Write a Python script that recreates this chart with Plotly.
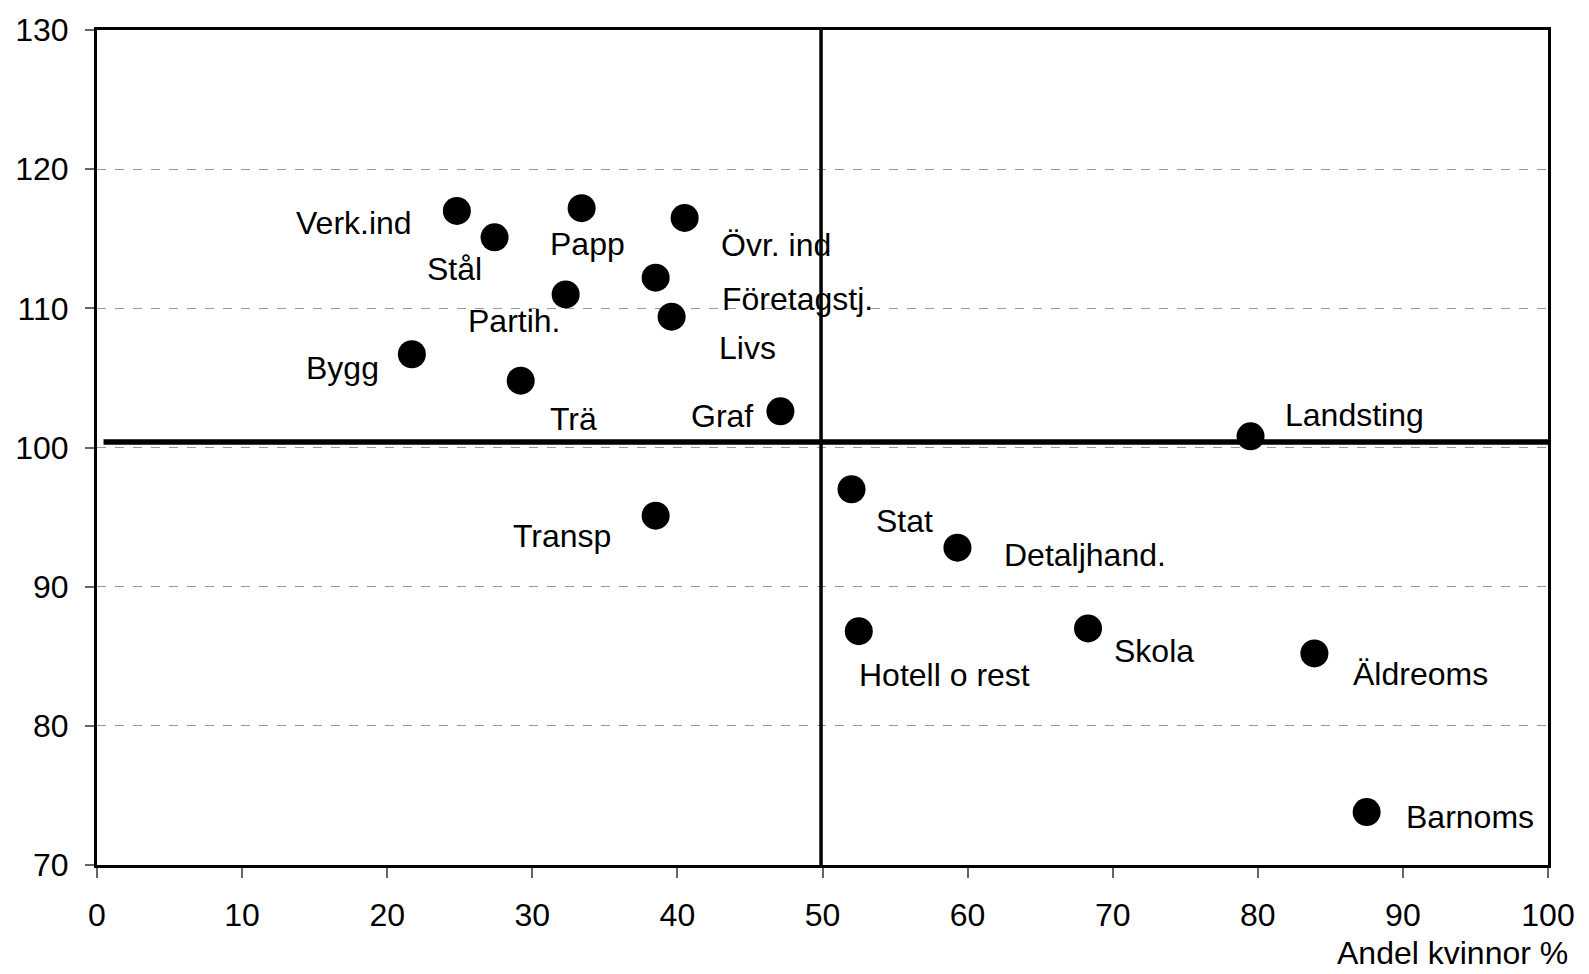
import plotly.graph_objects as go

# ---- data ----
sectors = ["Bank", "Verk.ind", "Stål", "Papp", "Övr. ind", "Partih.", "Företagstj.",
           "Livs", "Bygg", "Trä", "Graf", "Landsting", "Stat", "Transp",
           "Detaljhand.", "Hotell o rest", "Skola", "Äldreoms", "Barnoms"]
andel_kvinnor = [53.3, 24.8, 27.4, 33.4, 40.5, 32.3, 38.5,
                 39.6, 21.7, 29.2, 47.1, 79.5, 52.0, 38.5,
                 59.3, 52.5, 68.3, 83.9, 87.5]
index_values = [130.3, 117.0, 115.1, 117.2, 116.5, 111.0, 112.2,
                109.4, 106.7, 104.8, 102.6, 100.8, 97.0, 95.1,
                92.8, 86.8, 87.0, 85.2, 73.8]

# reference (average) lines
vline_x = [49.9, 49.9]
vline_y = [70, 130]
hline_x = [0.45, 100]
hline_y = [100.4, 100.4]

x_ticks = [0, 10, 20, 30, 40, 50, 60, 70, 80, 90, 100]
y_ticks = [70, 80, 90, 100, 110, 120, 130]
x_title = "Andel kvinnor %"

# label offsets in pixels (dx right, dy down) -- layout only
label_offsets = [(95, 24), (-103, 12), (-40, 32), (6, 36), (91, 27), (-52, 27), (142, 21),
                 (76, 31), (-69, 14), (53, 38), (-58, 5), (104, -21), (53, 32), (-94, 20),
                 (128, 7), (86, 44), (66, 23), (106, 21), (103, 5)]

FONT = "Liberation Sans, Arial, sans-serif"
FS = 32

fig = go.Figure()

fig.add_trace(go.Scatter(x=hline_x, y=hline_y, mode="lines",
                         line=dict(color="black", width=5.5), hoverinfo="skip",
                         showlegend=False))
fig.add_trace(go.Scatter(x=vline_x, y=vline_y, mode="lines",
                         line=dict(color="black", width=3.5), hoverinfo="skip",
                         showlegend=False))
fig.add_trace(go.Scatter(x=andel_kvinnor, y=index_values, mode="markers",
                         marker=dict(color="black", size=28, line=dict(width=0)),
                         text=sectors, cliponaxis=False, showlegend=False))

for name, xv, yv, (dx, dy) in zip(sectors, andel_kvinnor, index_values, label_offsets):
    fig.add_annotation(x=xv, y=yv, xref="x", yref="y", text=name, showarrow=False,
                       xanchor="center", yanchor="middle", xshift=dx, yshift=-dy,
                       font=dict(family=FONT, size=FS, color="black"))

fig.add_annotation(x=1.0152, y=-0.0819, xref="paper", yref="paper", text=x_title,
                   showarrow=False, xanchor="right", yanchor="top",
                   font=dict(family=FONT, size=FS, color="black"))

fig.update_layout(
    width=1589, height=974,
    margin=dict(l=97, r=41, t=22, b=109),
    paper_bgcolor="white", plot_bgcolor="white",
    font=dict(family=FONT, size=FS, color="black"),
    showlegend=False,
)
fig.update_xaxes(range=[0, 100], tickvals=x_ticks, ticks="outside", ticklen=10,
                 tickwidth=2, tickcolor="#666", showgrid=False, zeroline=False,
                 showline=True, linecolor="black", linewidth=3, mirror=True,
                 ticklabelstandoff=10, tickfont=dict(family=FONT, size=FS, color="black"))
fig.update_yaxes(range=[70, 130], tickvals=y_ticks, ticks="outside", ticklen=9,
                 tickwidth=2, tickcolor="#666", showgrid=True, gridcolor="#999",
                 gridwidth=1, griddash="dash", zeroline=False,
                 showline=True, linecolor="black", linewidth=3, mirror=True,
                 ticklabelstandoff=10, tickfont=dict(family=FONT, size=FS, color="black"))

fig.write_html("out.html", config={"displayModeBar": False},
               post_script="document.body.style.margin='0';document.body.style.overflow='hidden';")
